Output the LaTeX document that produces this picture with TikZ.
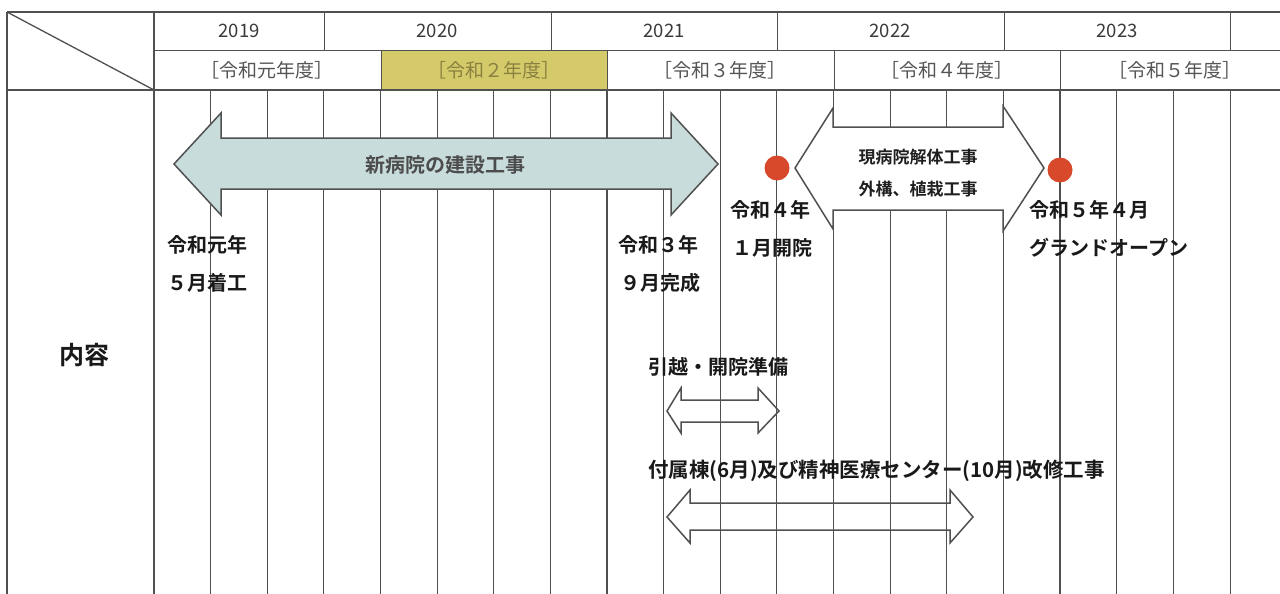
\documentclass[tikz,border=0pt]{standalone}
\usepackage{fontspec}
\setmainfont{Noto Sans CJK JP}[BoldFont={Noto Sans CJK JP Bold}]
\definecolor{gridc}{HTML}{505050}
\definecolor{armfill}{HTML}{C9DCDC}
\definecolor{yel}{HTML}{D4CA6A}
\definecolor{reddot}{HTML}{D8482A}
\definecolor{hdrtxt}{HTML}{3A3A3A}
\definecolor{fytxt}{HTML}{555555}
\definecolor{fytxtY}{HTML}{8A8040}
\begin{document}
\begin{tikzpicture}[x=1pt,y=-1pt,
  gridthin/.style={draw=gridc,line width=0.9pt},
  gridthick/.style={draw=gridc,line width=1.8pt},
  frame/.style={draw=gridc,line width=1.6pt},
  arrowline/.style={draw=gridc,line width=1.5pt,line join=miter},
  yearlbl/.style={font=\fontsize{18.5}{18.5}\selectfont,text=hdrtxt,inner sep=0pt},
  fylbl/.style={font=\fontsize{19}{19}\selectfont,text=fytxt,inner sep=0pt},
  lbl/.style={font=\fontsize{20}{20}\selectfont\bfseries,text=black!90,inner sep=0pt},
  smalllbl/.style={font=\fontsize{17}{17}\selectfont\bfseries,text=black!88,inner sep=0pt},
  dot/.style={circle,fill=reddot,draw=none,minimum size=25pt,inner sep=0pt}]
\useasboundingbox (0,0) rectangle (1280,594);
\fill[white] (0,0) rectangle (1280,594);
% yellow highlighted fiscal-year cell
\fill[yel] (381,50) rectangle (607,90);
% body grid (quarters)
\foreach \k in {1,2,3,5,6,7,9,10,11,13,14,15,17,18,19}
  \draw[gridthin] ({154+\k*56.63},90) -- ({154+\k*56.63},594);
\foreach \k in {4,8,12,16}
  \draw[gridthick] ({154+\k*56.63},90) -- ({154+\k*56.63},594);
\draw[gridthick] (154,12) -- (154,594);
% header verticals: calendar years
\foreach \xx in {324,551,777,1004,1230}
  \draw[gridthin] (\xx,12) -- (\xx,50);
% header verticals: fiscal years
\foreach \xx in {381,607,834,1060}
  \draw[gridthin] (\xx,50) -- (\xx,90);
% frame
\draw[frame] (7,12) -- (1280,12);
\draw[gridthin] (154,50) -- (1280,50);
\draw[frame] (7,90) -- (1280,90);
\draw[frame] (7,12) -- (7,594);
\draw[line width=1.3pt,draw=gridc] (7,12) -- (154,90);
% header texts
\node[yearlbl] (y2019) at (239,31) {2019};
\node[yearlbl] (y2020) at (437,31) {2020};
\node[yearlbl] (y2021) at (664,31) {2021};
\node[yearlbl] (y2022) at (890,31) {2022};
\node[yearlbl] (y2023) at (1117,31) {2023};
\node[fylbl] (fy1) at (267,70) {［令和元年度］};
\node[fylbl,text=fytxtY] (fy2) at (494,70) {［令和２年度］};
\node[fylbl] (fy3) at (720,70) {［令和３年度］};
\node[fylbl] (fy4) at (947,70) {［令和４年度］};
\node[fylbl] (fy5) at (1175,70) {［令和５年度］};
\node[font=\fontsize{25}{25}\selectfont\bfseries,text=black!90,inner sep=0pt] (naiyo) at (84,355) {内容};
% construction arrow
\draw[arrowline,fill=armfill] (174,164) -- (221,113) -- (221,138) -- (671,138) -- (671,113) -- (718,164)
  -- (671,215) -- (671,189) -- (221,189) -- (221,215) -- cycle;
\node[lbl,text=black!70] (newhosp) at (445,165) {新病院の建設工事};
% demolition arrow
\draw[arrowline,fill=white] (795,168) -- (833,108) -- (833,127) -- (1003,127) -- (1003,106) -- (1044,168)
  -- (1003,231) -- (1003,210) -- (833,210) -- (833,229) -- cycle;
\node[smalllbl] (demo1) at (918,157) {現病院解体工事};
\node[smalllbl] (demo2) at (918,189) {外構、植栽工事};
% milestones
\node[dot] (d1) at (777,168) {};
\node[dot] (d2) at (1060,170) {};
% labels
\node[lbl,anchor=west] (l1a) at (167,245) {令和元年};
\node[lbl,anchor=west] (l1b) at (167,283) {５月着工};
\node[lbl] (l2a) at (658,245) {令和３年};
\node[lbl] (l2b) at (660,283) {９月完成};
\node[lbl] (l3a) at (770,210) {令和４年};
\node[lbl] (l3b) at (772,248) {１月開院};
\node[lbl,anchor=west] (l4a) at (1029,210) {令和５年４月};
\node[lbl,anchor=west] (l4b) at (1029,248) {グランドオープン};
% moving arrow
\node[lbl,anchor=west] (move) at (648,367) {引越・開院準備};
\draw[arrowline] (667,411) -- (681,388) -- (681,400) -- (758,400) -- (758,388) -- (779,411)
  -- (758,433) -- (758,422) -- (681,422) -- (681,433) -- cycle;
% renovation arrow
\node[lbl,anchor=west,font=\fontsize{20.5}{20.5}\selectfont\bfseries] (renov) at (648,471) {付属棟(6月)及び精神医療センター(10月)改修工事};
\draw[arrowline] (667,517) -- (690,490) -- (690,503) -- (950,503) -- (950,490) -- (973,517)
  -- (950,543) -- (950,530) -- (690,530) -- (690,543) -- cycle;
\end{tikzpicture}
\end{document}
